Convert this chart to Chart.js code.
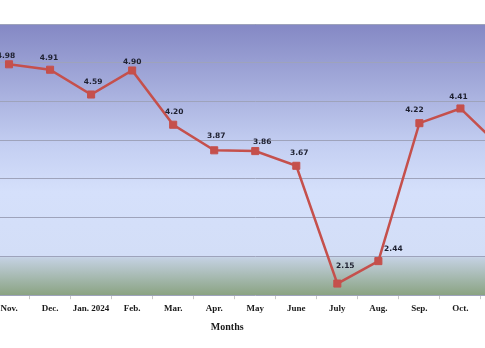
<!DOCTYPE html>
<html>
<head>
<meta charset="utf-8">
<script src="https://cdn.jsdelivr.net/npm/chart.js@4.4.1/dist/chart.umd.min.js"></script>
<style>
  html, body { margin: 0; padding: 0; background: #ffffff; overflow: hidden; }
  body { width: 485px; height: 348px; position: relative; }
  #wrap { position: absolute; left: -70px; top: 0; width: 598px; height: 348px; }
</style>
</head>
<body>
<div id="wrap"><canvas id="rateChart"></canvas></div>
<script>
const months = ["Nov.", "Dec.", "Jan. 2024", "Feb.", "Mar.", "Apr.", "May", "June", "July", "Aug.", "Sep.", "Oct.", "Nov."];
const rates = [4.98, 4.91, 4.59, 4.90, 4.20, 3.87, 3.86, 3.67, 2.15, 2.44, 4.22, 4.41, 3.90];
const yTicks = [2.0, 2.5, 3.0, 3.5, 4.0, 4.5, 5.0, 5.5];

// label nudges [dx, dy] relative to each marker
const labelShift = [
  [-3, -8], [-1, -12], [2, -12], [0, -8], [1, -13], [2, -14], [7, -9],
  [3, -13], [8, -18], [15, -12], [-5, -13], [-2, -11], [0, -12]
];

const plotBackground = {
  id: "plotBackground",
  beforeDraw(chart) {
    const { ctx, chartArea: a } = chart;
    const g = ctx.createLinearGradient(0, a.top, 0, a.bottom);
    g.addColorStop(0, "#8488c4");
    g.addColorStop(0.45, "#c4cff2");
    g.addColorStop(0.62, "#d5e0fb");
    g.addColorStop(0.855, "#d3def7");
    g.addColorStop(0.862, "#c4d1e2");
    g.addColorStop(1, "#8aa382");
    ctx.save();
    ctx.fillStyle = g;
    ctx.fillRect(a.left, a.top, a.right - a.left, a.bottom - a.top);
    ctx.restore();
  }
};

const valueLabels = {
  id: "valueLabels",
  afterDatasetsDraw(chart) {
    const ctx = chart.ctx;
    const meta = chart.getDatasetMeta(0);
    ctx.save();
    ctx.font = "bold 7.5px 'DejaVu Sans'";
    ctx.fillStyle = "#1e2030";
    ctx.textAlign = "center";
    ctx.textBaseline = "middle";
    meta.data.forEach((pt, i) => {
      const s = labelShift[i] || [0, -12];
      ctx.fillText(rates[i].toFixed(2), pt.x + s[0], pt.y + s[1]);
    });
    ctx.restore();
  }
};

const ctx = document.getElementById("rateChart").getContext("2d");
new Chart(ctx, {
  type: "line",
  data: {
    labels: months,
    datasets: [{
      data: rates,
      borderColor: "#c5504c",
      backgroundColor: "#c5504c",
      borderWidth: 2.5,
      pointStyle: "rect",
      pointRadius: 5,
      pointBorderWidth: 1,
      tension: 0
    }]
  },
  options: {
    responsive: true,
    maintainAspectRatio: false,
    animation: false,
    layout: { padding: { left: 0, right: 3.5, top: 24, bottom: 15 } },
    plugins: {
      legend: { display: false },
      tooltip: { enabled: false },
      title: {
        display: true,
        position: "bottom",
        text: "Months",
        color: "#1a1a1a",
        font: { family: "'Liberation Serif'", size: 10, weight: "bold" },
        padding: { top: 3, bottom: 0 }
      }
    },
    scales: {
      x: {
        offset: true,
        grid: { offset: true, drawOnChartArea: false, drawTicks: true, tickLength: 4, color: "#c8c8c8" },
        border: { display: false },
        ticks: {
          color: "#1a1a1a",
          padding: 4,
          maxRotation: 0,
          autoSkip: false,
          font: { family: "'Liberation Serif'", size: 9, weight: "bold" }
        }
      },
      y: {
        min: 2,
        max: 5.5,
        afterBuildTicks(scale) { scale.ticks = yTicks.map(v => ({ value: v })); },
        afterFit(scale) { scale.width = 58.5; },
        grid: { color: "#9ea3bb", drawTicks: false },
        border: { display: false },
        ticks: {
          color: "#1a1a1a",
          font: { family: "'Liberation Serif'", size: 9, weight: "bold" },
          callback: v => v.toFixed(1)
        }
      }
    }
  },
  plugins: [plotBackground, valueLabels]
});
</script>
</body>
</html>
